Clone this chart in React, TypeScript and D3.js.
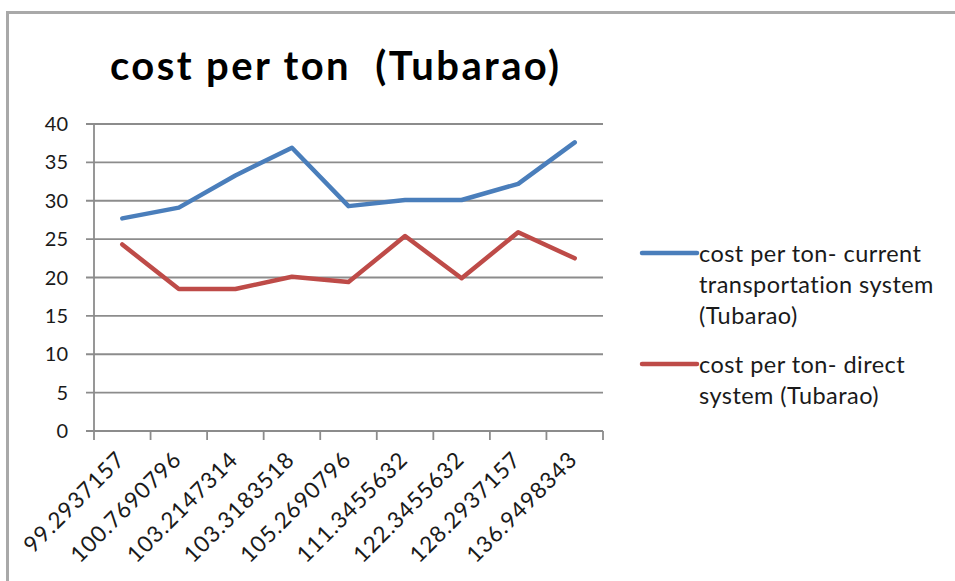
import React from 'react';
import * as d3 from 'd3';

const CATEGORIES = [
  '99.2937157', '100.7690796', '103.2147314', '103.3183518', '105.2690796',
  '111.3455632', '122.3455632', '128.2937157', '136.9498343',
];
const CURRENT = [27.7, 29.1, 33.3, 36.9, 29.3, 30.1, 30.1, 32.2, 37.6];
const DIRECT = [24.3, 18.5, 18.5, 20.1, 19.4, 25.4, 19.9, 25.9, 22.5];
const Y_TICKS = [0, 5, 10, 15, 20, 25, 30, 35, 40];

const SERIES = [
  { name: ['cost per ton- current', 'transportation system', '(Tubarao)'], values: CURRENT, color: '#4a7ebb' },
  { name: ['cost per ton- direct', 'system (Tubarao)'], values: DIRECT, color: '#be4b48' },
];

const W = 955, H = 581;
const FONT = 'Lato, "Open Sans", sans-serif';

export default function App() {
  const left = 94, right = 603, top = 124, bottom = 431;

  const x = d3.scaleBand<string>().domain(CATEGORIES).range([left, right]);
  const y = d3.scaleLinear().domain([0, 40]).range([bottom, top]);

  const line = d3.line<number>()
    .x((_, i) => x(CATEGORIES[i])! + x.bandwidth() / 2)
    .y(d => y(d));

  const tickXs = CATEGORIES.map(c => x(c)!).concat([right]);
  const legendTops = [262, 373];

  return (
    <svg width={W} height={H} style={{ position: 'fixed', left: 0, top: 0, background: '#fff', overflow: 'hidden' }}
      fontFamily={FONT}>
      <rect x={0} y={0} width={W} height={H} fill="#fff" />
      <rect x={7.5} y={12.5} width={3000} height={3000} fill="none" stroke="#a9a9a9" strokeWidth={3} />

      <text x={110} y={80} fontSize={40} fontWeight={700} fill="#000"
        letterSpacing={2.4} style={{ whiteSpace: 'pre' }}>cost per ton  (Tubarao)</text>

      {/* gridlines + y ticks */}
      {Y_TICKS.map(t => (
        <g key={t}>
          <line x1={left - 8} x2={right} y1={y(t)} y2={y(t)} stroke="#8c8c8c" strokeWidth={1.8} />
          <text x={68} y={y(t)} dy="0.35em" textAnchor="end" fontSize={20} fill="#1a1a1a">{t}</text>
        </g>
      ))}
      <line x1={left} x2={left} y1={top} y2={bottom} stroke="#8c8c8c" strokeWidth={1.8} />

      {/* x ticks */}
      {tickXs.map((tx, i) => (
        <line key={i} x1={tx} x2={tx} y1={bottom} y2={bottom + 9} stroke="#8c8c8c" strokeWidth={1.8} />
      ))}
      {CATEGORIES.map(c => {
        const cx = x(c)! + x.bandwidth() / 2 + 4;
        const cy = 461;
        return (
          <text key={c} x={cx} y={cy} textAnchor="end" fontSize={22.5} letterSpacing={0.9} fill="#1a1a1a"
            transform={`rotate(-45 ${cx} ${cy})`}>{c}</text>
        );
      })}

      {SERIES.map(s => (
        <path key={s.color} d={line(s.values)!} fill="none" stroke={s.color} strokeWidth={4.5}
          strokeLinejoin="round" strokeLinecap="round" />
      ))}

      {/* legend */}
      {SERIES.map((s, i) => (
        <g key={s.color}>
          <line x1={642} x2={697} y1={legendTops[i] - 9} y2={legendTops[i] - 9} stroke={s.color} strokeWidth={4.5}
            strokeLinecap="round" />
          {s.name.map((ln, j) => (
            <text key={j} x={699} y={legendTops[i] + j * 31} fontSize={23.5} letterSpacing={0.45}
              fill="#1a1a1a">{ln}</text>
          ))}
        </g>
      ))}
    </svg>
  );
}
